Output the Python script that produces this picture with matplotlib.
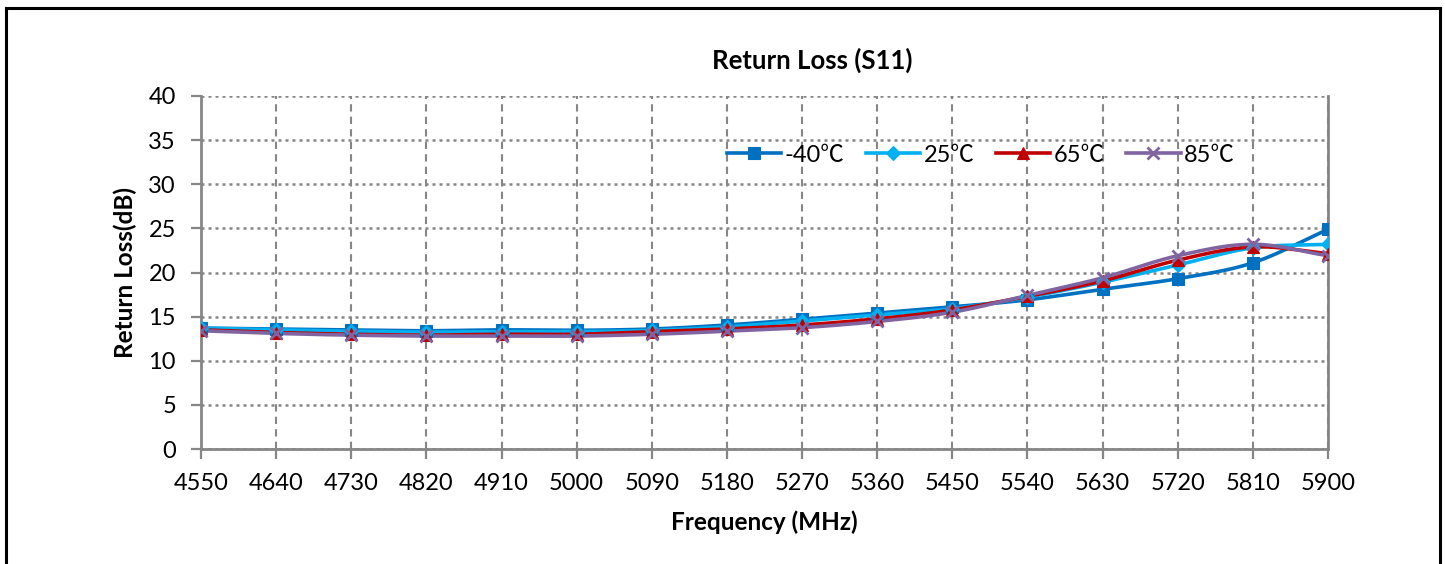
import numpy as np
import matplotlib
matplotlib.use("Agg")
import matplotlib.pyplot as plt
from matplotlib.lines import Line2D

plt.rcParams['font.family'] = ['Lato', 'Noto Sans CJK SC', 'DejaVu Sans']

freq = [4550, 4640, 4730, 4820, 4910, 5000, 5090, 5180, 5270, 5360,
        5450, 5540, 5630, 5720, 5810, 5900]
rl_m40 = [13.7, 13.6, 13.5, 13.4, 13.5, 13.45, 13.6, 14.05, 14.7, 15.4,
          16.1, 16.9, 18.1, 19.3, 21.1, 24.9]
rl_25 = [13.7, 13.5, 13.35, 13.25, 13.3, 13.3, 13.45, 13.85, 14.5, 15.2,
         15.9, 17.2, 18.9, 20.85, 22.8, 23.2]
rl_65 = [13.5, 13.2, 13.0, 12.9, 13.0, 13.0, 13.3, 13.6, 14.05, 14.75,
         15.75, 17.3, 19.05, 21.4, 22.9, 22.15]
rl_85 = [13.4, 13.1, 12.9, 12.8, 12.8, 12.8, 13.0, 13.35, 13.75, 14.45,
         15.5, 17.4, 19.4, 21.9, 23.2, 21.9]
labels = ['-40\u2103', '25\u2103', '65\u2103', '85\u2103']
yticks = [0, 5, 10, 15, 20, 25, 30, 35, 40]

colors = ['#0070C0', '#00B0F0', '#C00000', '#8064A2']
markers = ['s', 'D', '^', 'x']
msizes = [8.5, 7, 8.5, 8.5]


def smooth(xs, ys, n=20):
    """Catmull-Rom spline through the points (like Excel smoothed lines)."""
    xs = np.asarray(xs, float)
    ys = np.asarray(ys, float)
    px = np.concatenate([[2 * xs[0] - xs[1]], xs, [2 * xs[-1] - xs[-2]]])
    py = np.concatenate([[2 * ys[0] - ys[1]], ys, [2 * ys[-1] - ys[-2]]])
    ox, oy = [], []
    t = np.linspace(0, 1, n, endpoint=False)
    for i in range(1, len(px) - 2):
        for P, out in ((px, ox), (py, oy)):
            p0, p1, p2, p3 = P[i - 1], P[i], P[i + 1], P[i + 2]
            v = 0.5 * ((2 * p1) + (-p0 + p2) * t
                       + (2 * p0 - 5 * p1 + 4 * p2 - p3) * t ** 2
                       + (-p0 + 3 * p1 - 3 * p2 + p3) * t ** 3)
            out.extend(v)
    ox.append(xs[-1])
    oy.append(ys[-1])
    return np.array(ox), np.array(oy)


W, H = 1445, 564
fig = plt.figure(figsize=(W / 100, H / 100), dpi=100)
ax = fig.add_axes([201 / W, 1 - 449 / H, (1328 - 201) / W, (449 - 96) / H])

gray = '#868686'
series = [rl_m40, rl_25, rl_65, rl_85]
handles = []
for ys, c, m, ms, lab in zip(series, colors, markers, msizes, labels):
    sx, sy = smooth(freq, ys)
    ax.plot(sx, sy, color=c, lw=2.6, zorder=3, solid_capstyle='round')
    mew = 2.0 if m == 'x' else 0.8
    ax.plot(freq, ys, linestyle='none', marker=m, ms=ms, color=c,
            mec=c, mew=mew, zorder=4)
    handles.append(Line2D([], [], color=c, lw=2.6, marker=m, ms=ms,
                          mec=c, mew=mew, label=lab))

ax.set_xlim(freq[0], freq[-1])
ax.set_ylim(0, 40)
ax.set_xticks(freq)
ax.set_xticklabels([str(f) for f in freq])
ax.set_yticks(yticks)

ax.yaxis.grid(True, color=gray, linestyle=(0, (1.2, 1.6)), lw=1.8)
ax.xaxis.grid(True, color=gray, linestyle=(0, (3.5, 2.5)), lw=1.5)
ax.set_axisbelow(True)

ax.spines['top'].set_visible(False)
for s in ['left', 'bottom', 'right']:
    ax.spines[s].set_color(gray)
    ax.spines[s].set_linewidth(2)

ax.tick_params(axis='y', direction='out', length=7, width=1.6, color=gray,
               pad=11, labelsize=17)
ax.tick_params(axis='x', direction='out', length=7, width=1.6, color=gray,
               pad=10, labelsize=17)

ax.set_xlabel('Frequency (MHz)', fontsize=17.5, fontweight='bold', labelpad=12)
ax.set_ylabel('Return Loss(dB)', fontsize=17.5, fontweight='bold', labelpad=8)
fig.text(812 / W, 1 - 60 / H, 'Return Loss (S11)', fontsize=18.5,
         fontweight='bold', ha='center', va='center')

leg = ax.legend(handles=handles, loc='center', bbox_to_anchor=(981 / W, 1 - 155 / H),
                bbox_transform=fig.transFigure, ncol=4, frameon=False,
                fontsize=17, handlelength=2.3, handletextpad=0.15,
                columnspacing=0.9)

# outer chart border
fig.add_artist(plt.Line2D([5.5 / W, 5.5 / W], [0, 1 - 7.5 / H], color='black', lw=2.2))
fig.add_artist(plt.Line2D([5.5 / W, 1439.5 / W], [1 - 7.5 / H, 1 - 7.5 / H], color='black', lw=2.2))
fig.add_artist(plt.Line2D([1439.5 / W, 1439.5 / W], [0, 1 - 7.5 / H], color='black', lw=2.2))

fig.savefig('out.png', dpi=100, facecolor='white')
